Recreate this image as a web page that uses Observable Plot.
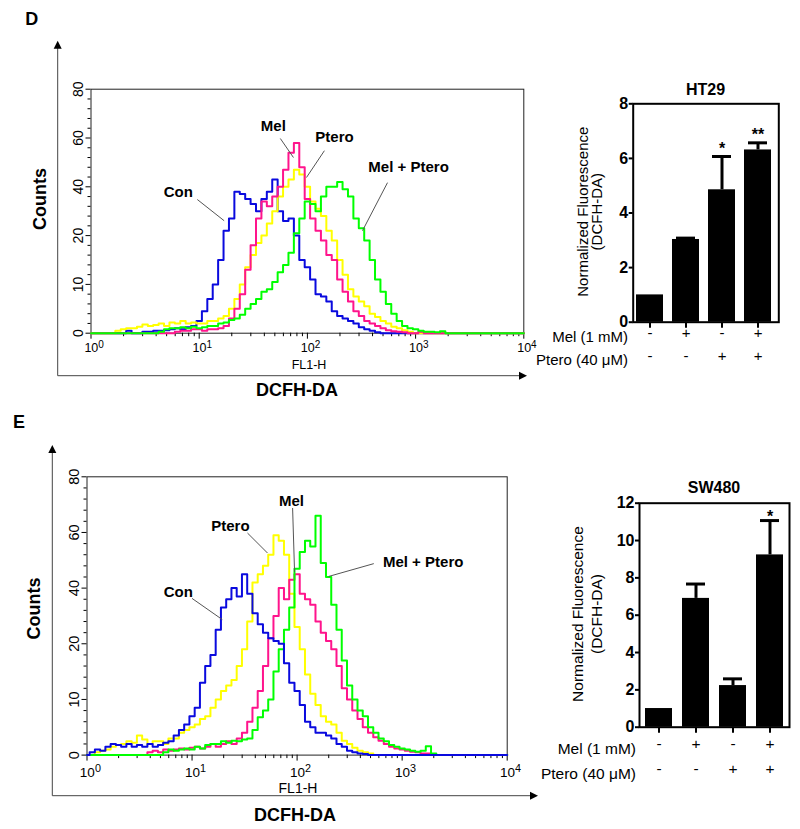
<!DOCTYPE html>
<html>
<head>
<meta charset="utf-8">
<script src="https://cdn.jsdelivr.net/npm/d3@7"></script>
<script src="https://cdn.jsdelivr.net/npm/@observablehq/plot@0.6"></script>
<style>
  html, body { margin: 0; padding: 0; background: #fff; }
  body { width: 800px; height: 829px; position: relative; overflow: hidden; }
  svg.panel { position: absolute; overflow: visible; background: transparent; }
</style>
</head>
<body>
<script>
// ---------------- DATA ----------------
// FL1-H channel positions (decades, 10^d)
const fl1Decade = [0,0.05,0.1,0.15,0.2,0.25,0.3,0.35,0.4,0.45,0.5,0.55,0.6,0.65,0.7,0.75,0.8,0.85,0.9,0.95,
  1,1.05,1.1,1.15,1.2,1.25,1.3,1.35,1.4,1.45,1.5,1.55,1.6,1.65,1.7,1.75,1.8,1.85,1.9,1.95,
  2,2.05,2.1,2.15,2.2,2.25,2.3,2.35,2.4,2.45,2.5,2.55,2.6,2.65,2.7,2.75,2.8,2.85,2.9,2.95,
  3,3.05,3.1,3.15,3.2,3.25,3.3,3.35,3.4,3.45,3.5,3.55,3.6,3.65,3.7,3.75,3.8,3.85,3.9,3.95,4];

const histGroups = ["Con", "Mel", "Ptero", "Mel + Ptero"];

// Panel D (HT29) histogram counts
const dCon = [0,0,0,0,0,0,0,0.5,0,0,
  0.3,0.3,0.5,0.5,0.6,0.8,1,0.8,1.2,1.5,
  2.5,4.5,7,10,15,22,27,38,37,35,
  33,30,35,38,43,30,26,27,20,15,
  13.5,11,8,7.5,6.5,4.5,3.5,3,2.5,2,
  1.2,0.8,0.5,0.2,0,0,0,0,0,0,
  0,0,0,0,0,0,0,0,0,0,
  0,0,0,0,0,0,0,0,0,0,0];
const dMel = [0,0,0,0,0,0,0,0,0,0,
  0,0,0,0,0,0,0.3,0.5,0.5,0.8,
  0.8,0.5,0.8,0.8,1,1.5,3,5,8,13,
  18,27,34,32,36,40,47,54,58,48,
  35,27,22,19,16,15,11,8.5,6.5,4.5,
  3.5,2.5,2,1.5,1,0.6,0.4,0.3,0.2,0,
  0,0.3,0,0,0,0,0,0,0,0,
  0,0,0,0,0,0,0,0,0,0,0];
const dPtero = [0,0,0,0,0,0.5,0.8,1,1,1.3,
  1.8,1.5,1.7,2,1.5,2.2,2,2.5,2,2.2,
  2,2,2.5,2.5,3,3.5,5,7,10,13.5,
  16,18.5,20,25,30,36,40,43,47,45,
  40,34,31,28,22,19,15,12,9,7.5,
  6.5,5.5,4,3.3,2.5,2,1.3,1,0.6,0.3,
  0,0,0,0,0,0,0,0,0,0,
  0,0,0,0,0,0,0,0,0,0,0];
const dMelPtero = [0,0,0,0,0,0,0,0,0,0,
  0,0,0,0.3,0.8,1,1,1.2,1,1.3,
  1,1.2,1.5,1.5,2,2.2,2.7,3,3.8,5,
  6,7,8.5,9,10.5,12.5,14,16.5,21,27,
  34,33,30,36,40,40,42,39,36,27,
  23,19,15,11,8.5,6,4,2.5,1.5,1,
  0.8,0.5,0.3,0.3,0.2,0.4,0,0,0,0,
  0,0,0,0,0,0,0,0,0,0,0];

// Panel E (SW480) histogram counts
const eCon = [0,0.5,1,0.8,1.5,2,1.8,1.5,2,1.5,
  1.8,1.5,2,1.5,1.8,2.2,2.5,3.5,4.5,5.5,
  7,8.5,13,16,18,25,33,36,40,37,
  45,38,31,27,24,22,21,20,16.5,13,
  11.5,9,6,5,4,4,3.5,3,2,1.5,
  0.8,0.5,0.3,0.2,0,0,0,0,0,0,
  0,0,0,0,0,0,0,0,0,0,
  0,0,0,0,0,0,0,0,0,0,0];
const eMel = [0,0,0,0,0,0,0,0,0,0,
  0,0,0.5,0.8,0.5,1,0.8,1,1.2,1,
  1.3,1.5,1.2,1.5,2,1.5,2,2.5,2,3,
  4,6,8.5,11.5,16,22,30,40,36,43,
  45,38,36,34,28,24,21,19,16,12,
  10,8,6.5,5,4,3.2,2.6,2,1.5,1.2,
  1,0.8,0.6,0.5,0.3,0.3,0,0,0,0,
  0,0,0,0,0,0,0,0,0,0,0];
const ePtero = [0,0,0.5,0.8,1,1.5,1.8,2,2.5,2.2,
  3.5,2.8,2,2.5,2.5,2,3,3,4,4.5,
  5,5.5,6.5,7,8.5,10,11.5,12.5,13.5,16,
  19,28,42,45,48,52,59,57,52,38,
  26,19,14.5,11,9,7,6,5.5,4,2.6,
  2,1.3,0.8,0.5,0.3,0,0,0,0,0,
  0,0,0,0,0,0,0,0,0,0,
  0,0,0,0,0,0,0,0,0,0,0];
const eMelPtero = [0,0,0,0,0,0,0,0,0,0,
  0,0,0,0,0,0.5,1,0.8,1,1.2,
  1,1.5,1.2,1.8,2,2,2.5,2.2,2.6,2.5,
  2.8,3,4.5,6.8,8,10,15,19,25,33,
  47,53,57,55,66,49,44,34,25,17,
  12.5,10,8,7,5,4,3,2.5,1.8,1.5,
  1.2,1,0.8,0.6,0.8,1.6,0.3,0,0,0,
  0,0,0,0,0,0,0,0,0,0,0];

// Histogram axis ticks (labels are unevenly valued but evenly spaced)
const histYTicks = [0, 10, 20, 40, 60, 80];
const histYMinor = [2,4,6,8,12,14,16,18,24,28,32,36,44,48,52,56,64,68,72,76];
const histXTicks = [1, 10, 100, 1000, 10000];
const histXMinor = [2,3,4,5,6,7,8,9,20,30,40,50,60,70,80,90,200,300,400,500,600,700,800,900,2000,3000,4000,5000,6000,7000,8000,9000];

// Annotations (data units: FL1-H, counts)
const annLabelsD = ["Con", "Mel", "Ptero", "Mel + Ptero"];
const annTextXD = [6.4, 48.4, 178, 861];
const annTextYD = [37.6, 64.7, 60.2, 47.9];
const annFromXD = [9.6, 56.2, 143.6, 550];
const annFromYD = [34.8, 59.8, 54.8, 41.7];
const annToXD = [17.0, 74.3, 98, 323];
const annToYD = [26.1, 52, 43.8, 22];

const annLabelsE = ["Con", "Ptero", "Mel", "Mel + Ptero"];
const annTextXE = [7.4, 23.2, 88.5, 1585];
const annTextYE = [38.5, 62.3, 71.3, 49.3];
const annFromXE = [10, 33.7, 90.6, 537];
const annFromYE = [36.3, 59.8, 68.8, 48.8];
const annToXE = [19.4, 52.3, 94.6, 200];
const annToYE = [28.7, 52.6, 45.7, 44.2];

// Bar charts
const barGroups = ["Con", "Mel", "Ptero", "Mel + Ptero"];
const melSigns = ["-", "+", "-", "+"];
const pteroSigns = ["-", "-", "+", "+"];
const ht29Mean = [1.0, 3.03, 4.85, 6.31];
const ht29Err = [0, 0.05, 1.22, 0.26];
const ht29Stars = ["", "", "*", "**"];
const ht29YTicks = [0, 2, 4, 6, 8];
const sw480Mean = [1.0, 6.9, 2.23, 9.23];
const sw480Err = [0, 0.77, 0.36, 1.84];
const sw480Stars = ["", "", "", "*"];
const sw480YTicks = [0, 2, 4, 6, 8, 10, 12];

// ---------------- STYLE ----------------
const FONT = "'Liberation Sans', Arial, Helvetica, sans-serif";
const groupColor = {"Con": "#0a0ade", "Mel": "#ff148c", "Ptero": "#ffff00", "Mel + Ptero": "#00ff00"};
const NS = "http://www.w3.org/2000/svg";

// piecewise count axis: labels 0,10,20,40,60,80 sit at evenly spaced positions
const countPos = d3.scaleLinear().domain(histYTicks).range(histYTicks.map((_, i) => i));

function addEl(svg, tag, attrs, text) {
  const el = document.createElementNS(NS, tag);
  for (const k in attrs) el.setAttribute(k, attrs[k]);
  if (text != null) el.textContent = text;
  svg.appendChild(el);
  return el;
}
function addText(svg, x, y, str, {size = 15, weight = "normal", anchor = "middle", rotate = 0} = {}) {
  return addEl(svg, "text", {
    transform: `translate(${x},${y}) rotate(${rotate})`,
    "text-anchor": anchor, dy: "0.35em", "font-size": size, "font-weight": weight,
    "font-family": FONT, fill: "#000"
  }, str);
}
function addArrowAxes(svg, x0, y0, xTip, yTip) {
  addEl(svg, "line", {x1: x0, y1: y0, x2: x0, y2: yTip + 6, stroke: "#444", "stroke-width": 1});
  addEl(svg, "polygon", {points: `${x0},${yTip} ${x0 - 4},${yTip + 8} ${x0 + 4},${yTip + 8}`, fill: "#000"});
  addEl(svg, "line", {x1: x0, y1: y0, x2: xTip - 6, y2: y0, stroke: "#444", "stroke-width": 1});
  addEl(svg, "polygon", {points: `${xTip},${y0} ${xTip - 8},${y0 - 4} ${xTip - 8},${y0 + 4}`, fill: "#000"});
}
function place(svg, left, top) {
  svg.classList.add("panel");
  svg.style.left = left + "px";
  svg.style.top = top + "px";
  svg.style.maxWidth = "none";
  document.body.appendChild(svg);
}
function superscriptTicks(svg) {
  svg.querySelectorAll("text").forEach(t => {
    const m = /^10\^(\d)$/.exec(t.textContent);
    if (!m) return;
    t.textContent = "10";
    const s = document.createElementNS(NS, "tspan");
    s.setAttribute("dy", "-0.42em");
    s.setAttribute("font-size", "0.8em");
    s.textContent = m[1];
    t.appendChild(s);
    t.setAttribute("dx", "0.25em");
  });
}

// ---------------- HISTOGRAMS ----------------
function drawHist(L, seriesByGroup, order, ann) {
  const rows = [];
  for (const g of order) {
    seriesByGroup[g].forEach((v, i) => rows.push({group: g, fl1: Math.pow(10, fl1Decade[i]), pos: countPos(v)}));
  }
  const annRows = ann.labels.map((label, i) => ({
    label, tx: ann.tx[i], ty: countPos(ann.ty[i]),
    x1: ann.fx[i], y1: countPos(ann.fy[i]), x2: ann.toX[i], y2: countPos(ann.toY[i])
  }));
  const majorPos = histYTicks.map(v => countPos(v));
  const minorPos = histYMinor.map(v => countPos(v));
  const svg = Plot.plot({
    width: L.width, height: L.height,
    marginLeft: L.frameL, marginRight: L.width - L.frameR,
    marginTop: L.frameT, marginBottom: L.height - L.frameB,
    style: {fontFamily: FONT, color: "#000", background: "transparent", overflow: "visible"},
    x: {type: "log", domain: [1, 10000]},
    y: {type: "linear", domain: [0, histYTicks.length - 1]},
    marks: [
      Plot.frame({stroke: "#222", strokeWidth: 1}),
      Plot.axisX({ticks: histXTicks, tickSize: 6, tickPadding: L.xPad, fontSize: L.xFont,
        tickFormat: d => `10^${Math.round(Math.log10(d))}`, label: null}),
      Plot.axisX({ticks: histXMinor, tickSize: 3.5, tickFormat: () => "", label: null}),
      Plot.axisY({ticks: majorPos, tickSize: 5, tickPadding: 3, tickRotate: -90, fontSize: L.yFont,
        tickFormat: (d, i) => String(histYTicks[Math.round(d)]), label: null}),
      Plot.axisY({ticks: minorPos, tickSize: 3, tickFormat: () => "", label: null}),
      ...order.map(g => Plot.line(rows.filter(r => r.group === g), {
        x: "fl1", y: "pos", stroke: groupColor[g], strokeWidth: 2, curve: "step"
      })),
      Plot.link(annRows, {x1: "x1", y1: "y1", x2: "x2", y2: "y2", stroke: "#555", strokeWidth: 1}),
      Plot.text(annRows, {x: "tx", y: "ty", text: "label", fontWeight: "bold", fontSize: 15, fill: "#000"})
    ]
  });
  superscriptTicks(svg);
  addArrowAxes(svg, L.arrowX, L.arrowY, L.arrowTipX, L.arrowTipY);
  addText(svg, L.letter[0], L.letter[1], L.letter[2], {size: 18, weight: "bold"});
  addText(svg, L.counts[0], L.counts[1], "Counts", {size: 18, weight: "bold", rotate: -90});
  addText(svg, L.dcfh[0], L.dcfh[1], "DCFH-DA", {size: 18, weight: "bold"});
  addText(svg, L.fl1[0], L.fl1[1], "FL1-H", {size: L.fl1[2]});
  place(svg, 0, L.top);
}

drawHist({
  top: 0, width: 545, height: 400,
  frameL: 90.5, frameR: 523.3, frameT: 88.7, frameB: 332.7,
  xFont: 12.5, yFont: 14, xPad: 4,
  arrowX: 57.7, arrowY: 375.7, arrowTipX: 527, arrowTipY: 40.7,
  letter: [31.7, 18.3, "D"], counts: [39.2, 199], dcfh: [297, 390], fl1: [309, 365, 12.5]
}, {"Con": dCon, "Mel": dMel, "Ptero": dPtero, "Mel + Ptero": dMelPtero},
  ["Con", "Ptero", "Mel", "Mel + Ptero"],
  {labels: annLabelsD, tx: annTextXD, ty: annTextYD, fx: annFromXD, fy: annFromYD, toX: annToXD, toY: annToYD});

drawHist({
  top: 400, width: 545, height: 429,
  frameL: 86.5, frameR: 506.7, frameT: 76.3, frameB: 354.6,
  xFont: 13.5, yFont: 14.5, xPad: 6,
  arrowX: 52.3, arrowY: 395.7, arrowTipX: 538, arrowTipY: 45,
  letter: [19, 21.5, "E"], counts: [33.3, 208.5], dcfh: [295, 415], fl1: [298, 388, 14]
}, {"Con": eCon, "Mel": eMel, "Ptero": ePtero, "Mel + Ptero": eMelPtero},
  ["Ptero", "Mel", "Mel + Ptero", "Con"],
  {labels: annLabelsE, tx: annTextXE, ty: annTextYE, fx: annFromXE, fy: annFromYE, toX: annToXE, toY: annToYE});

// ---------------- BAR CHARTS ----------------
function drawBars(L, mean, err, stars, yTicks) {
  const rows = barGroups.map((g, i) => ({g, v: mean[i], e: err[i], star: stars[i], mel: melSigns[i], ptero: pteroSigns[i]}));
  const withErr = rows.filter(r => r.e > 0);
  const svg = Plot.plot({
    width: L.width, height: L.height,
    marginLeft: L.frameL, marginRight: L.width - L.frameR,
    marginTop: L.frameT, marginBottom: L.height - L.frameB,
    style: {fontFamily: FONT, color: "#000", background: "transparent", overflow: "visible"},
    x: {type: "band", domain: barGroups, paddingInner: L.pIn, paddingOuter: L.pOut, align: L.align},
    y: {domain: [0, yTicks[yTicks.length - 1]]},
    marks: [
      Plot.barY(rows, {x: "g", y: "v", fill: "#000"}),
      Plot.ruleX(withErr, {x: "g", y1: "v", y2: d => d.v + d.e, stroke: "#000", strokeWidth: 3}),
      Plot.tickY(withErr, {x: "g", y: d => d.v + d.e, stroke: "#000", strokeWidth: 3, insetLeft: 4, insetRight: 4}),
      Plot.text(rows.filter(r => r.star), {x: "g", y: d => d.v + d.e, text: "star", dy: L.starDy,
        fontWeight: "bold", fontSize: 16, fill: "#000"}),
      Plot.frame({stroke: "#000", strokeWidth: 2}),
      Plot.axisY({ticks: yTicks, tickSize: 4, tickPadding: 1, fontSize: 16, fontWeight: "bold",
        strokeWidth: 2, label: null}),
      Plot.axisX({tickSize: 6, tickFormat: () => "", strokeWidth: 2, label: null}),
      Plot.text(rows, {x: "g", text: "mel", frameAnchor: "bottom", dy: L.row1, fontSize: L.rowFont, fill: "#000"}),
      Plot.text(rows, {x: "g", text: "ptero", frameAnchor: "bottom", dy: L.row2, fontSize: L.rowFont, fill: "#000"})
    ]
  });
  addText(svg, L.title[0], L.title[1], L.title[2], {size: 16, weight: "bold"});
  addText(svg, L.ylab1[0], L.ylab1[1], "Normalized Fluorescence", {size: L.ylabFont, rotate: -90});
  addText(svg, L.ylab2[0], L.ylab2[1], "(DCFH-DA)", {size: L.ylabFont, rotate: -90});
  addText(svg, L.rowLabelX, L.frameB + L.row1, "Mel (1 mM)", {size: L.rowFont, anchor: "end"});
  addText(svg, L.rowLabelX, L.frameB + L.row2, "Ptero (40 \u03BCM)", {size: L.rowFont, anchor: "end"});
  place(svg, L.left, L.top);
}

drawBars({
  left: 520, top: 60, width: 280, height: 320,
  frameL: 112.7, frameR: 258.3, frameT: 43.3, frameB: 261.7,
  pIn: 0.255, pOut: 0.106, align: 0.3, starDy: -8,
  row1: 15.3, row2: 38.3, rowFont: 15, rowLabelX: 108,
  title: [185.5, 29, "HT29"], ylab1: [63, 151.7], ylab2: [77, 151.7], ylabFont: 15
}, ht29Mean, ht29Err, ht29Stars, ht29YTicks);

drawBars({
  left: 520, top: 470, width: 280, height: 330,
  frameL: 119, frameR: 269, frameT: 32.7, frameB: 256.7,
  pIn: 0.282, pOut: 0.157, align: 0.5, starDy: -4,
  row1: 21.6, row2: 46.6, rowFont: 15.5, rowLabelX: 116,
  title: [194, 17, "SW480"], ylab1: [58, 144], ylab2: [77, 144], ylabFont: 15.5
}, sw480Mean, sw480Err, sw480Stars, sw480YTicks);
</script>
</body>
</html>
